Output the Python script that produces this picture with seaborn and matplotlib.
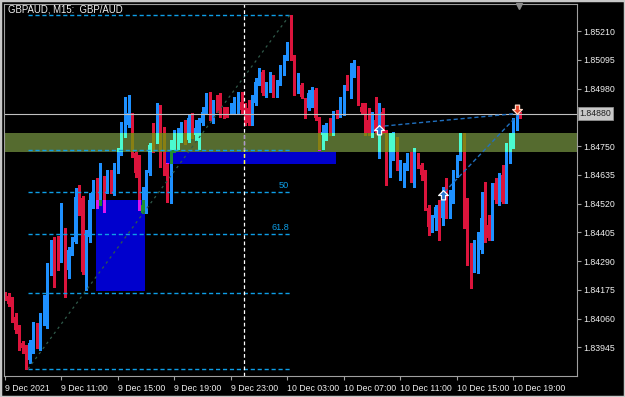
import numpy as np
import pandas as pd
import matplotlib
matplotlib.use("Agg")
import matplotlib.pyplot as plt
import matplotlib.transforms as mtransforms
from matplotlib.patches import Rectangle
from matplotlib.path import Path
import seaborn as sns

# ---------------- data (GBPAUD M15) ----------------
start_time = "2021-12-09 07:00"
opens = [1.84158, 1.84150, 1.84138, 1.84066, 1.84026, 1.83962, 1.83946, 1.83894, 1.83954, 1.83986,
         1.83954, 1.84074, 1.84142, 1.84266, 1.84334, 1.84374, 1.84322, 1.84406, 1.84254, 1.84326,
         1.84366, 1.84554, 1.84542, 1.84262, 1.84386, 1.84514, 1.84602, 1.84534, 1.84614, 1.84574,
         1.84626, 1.84566, 1.84674, 1.84722, 1.84794, 1.84834, 1.84874, 1.84722, 1.84694, 1.84482,
         1.84486, 1.84642, 1.84774, 1.84774, 1.84802, 1.84786, 1.84662, 1.84534, 1.84734, 1.84742,
         1.84774, 1.84822, 1.84774, 1.84862, 1.84794, 1.84742, 1.84842, 1.84886, 1.84934, 1.84854,
         1.84934, 1.84922, 1.84902, 1.84894, 1.84882, 1.84894, 1.84886, 1.84926, 1.84894, 1.84902,
         1.84846, 1.84922, 1.85002, 1.85046, 1.84954, 1.84974, 1.85026, 1.84954, 1.85002, 1.85042,
         1.85102, 1.85138, 1.85106, 1.84974, 1.84994, 1.84938, 1.84902, 1.84962, 1.84974, 1.84866,
         1.84794, 1.84782, 1.84826, 1.84802, 1.84882, 1.84874, 1.84882, 1.85022, 1.84954, 1.85034,
         1.85062, 1.84906, 1.84886, 1.84854, 1.84786, 1.84854, 1.84806, 1.84886, 1.84806, 1.84634,
         1.84702, 1.84774, 1.84622, 1.84642, 1.84662, 1.84714, 1.84614, 1.84714, 1.84674, 1.84646,
         1.84502, 1.84422, 1.84462, 1.84514, 1.84462, 1.84586, 1.84482, 1.84534, 1.84634, 1.84702,
         1.84802, 1.84434, 1.84302, 1.84274, 1.84314, 1.84334, 1.84446, 1.84434, 1.84382, 1.84602,
         1.84514, 1.84634, 1.84534, 1.84722, 1.84754, 1.84854, 1.84882]
highs = [1.84166, 1.84162, 1.84146, 1.84082, 1.84034, 1.83970, 1.83954, 1.83974, 1.84046, 1.84042,
         1.84082, 1.84154, 1.84282, 1.84374, 1.84386, 1.84390, 1.84522, 1.84422, 1.84346, 1.84386,
         1.84582, 1.84594, 1.84550, 1.84414, 1.84562, 1.84614, 1.84622, 1.84682, 1.84630, 1.84654,
         1.84654, 1.84682, 1.84742, 1.84846, 1.84946, 1.84954, 1.84882, 1.84726, 1.84714, 1.84586,
         1.84654, 1.84762, 1.84842, 1.84922, 1.84914, 1.84826, 1.84682, 1.84774, 1.84814, 1.84822,
         1.84846, 1.84854, 1.84874, 1.84882, 1.84854, 1.84862, 1.84906, 1.84962, 1.84966, 1.84934,
         1.84954, 1.84962, 1.84906, 1.84906, 1.84922, 1.84946, 1.84966, 1.84966, 1.84922, 1.84934,
         1.84954, 1.85022, 1.85062, 1.85054, 1.85006, 1.85046, 1.85034, 1.85014, 1.85074, 1.85114,
         1.85166, 1.85274, 1.85114, 1.85042, 1.85002, 1.84942, 1.84974, 1.84986, 1.84982, 1.84866,
         1.84834, 1.84842, 1.84862, 1.84890, 1.84894, 1.84946, 1.84994, 1.85034, 1.85082, 1.85094,
         1.85070, 1.84922, 1.84922, 1.84902, 1.84886, 1.84946, 1.84922, 1.84902, 1.84814, 1.84802,
         1.84806, 1.84786, 1.84694, 1.84682, 1.84722, 1.84726, 1.84742, 1.84722, 1.84682, 1.84654,
         1.84514, 1.84474, 1.84514, 1.84534, 1.84586, 1.84622, 1.84574, 1.84654, 1.84714, 1.84802,
         1.84802, 1.84542, 1.84362, 1.84374, 1.84406, 1.84566, 1.84606, 1.84474, 1.84602, 1.84622,
         1.84642, 1.84674, 1.84762, 1.84802, 1.84862, 1.84906, 1.84886]
lows = [1.84134, 1.84110, 1.84046, 1.84002, 1.83934, 1.83922, 1.83858, 1.83882, 1.83922, 1.83942,
        1.83934, 1.84034, 1.84022, 1.84234, 1.84186, 1.84254, 1.84286, 1.84146, 1.84222, 1.84314,
        1.84362, 1.84474, 1.84238, 1.84174, 1.84366, 1.84502, 1.84502, 1.84514, 1.84486, 1.84562,
        1.84562, 1.84554, 1.84642, 1.84714, 1.84786, 1.84826, 1.84706, 1.84626, 1.84494, 1.84482,
        1.84482, 1.84634, 1.84726, 1.84762, 1.84666, 1.84634, 1.84526, 1.84522, 1.84726, 1.84734,
        1.84766, 1.84758, 1.84766, 1.84782, 1.84774, 1.84734, 1.84834, 1.84882, 1.84854, 1.84842,
        1.84886, 1.84866, 1.84862, 1.84866, 1.84882, 1.84882, 1.84878, 1.84882, 1.84834, 1.84834,
        1.84834, 1.84914, 1.84994, 1.84954, 1.84946, 1.84966, 1.84946, 1.84946, 1.84994, 1.85034,
        1.85094, 1.85094, 1.84954, 1.84962, 1.84942, 1.84862, 1.84894, 1.84906, 1.84854, 1.84734,
        1.84734, 1.84774, 1.84794, 1.84794, 1.84862, 1.84866, 1.84874, 1.84974, 1.84942, 1.85026,
        1.84914, 1.84882, 1.84794, 1.84794, 1.84786, 1.84802, 1.84702, 1.84802, 1.84594, 1.84626,
        1.84694, 1.84654, 1.84614, 1.84586, 1.84654, 1.84606, 1.84586, 1.84662, 1.84614, 1.84494,
        1.84394, 1.84406, 1.84414, 1.84374, 1.84434, 1.84462, 1.84462, 1.84522, 1.84626, 1.84694,
        1.84422, 1.84274, 1.84182, 1.84246, 1.84242, 1.84322, 1.84366, 1.84374, 1.84374, 1.84522,
        1.84514, 1.84522, 1.84522, 1.84682, 1.84742, 1.84814, 1.84862]
closes = [1.84142, 1.84118, 1.84066, 1.84014, 1.83954, 1.83942, 1.83894, 1.83962, 1.83986, 1.83954,
          1.84074, 1.84142, 1.84266, 1.84342, 1.84314, 1.84266, 1.84414, 1.84246, 1.84334, 1.84366,
          1.84546, 1.84486, 1.84246, 1.84386, 1.84534, 1.84574, 1.84522, 1.84646, 1.84494, 1.84626,
          1.84566, 1.84674, 1.84722, 1.84802, 1.84854, 1.84882, 1.84714, 1.84642, 1.84522, 1.84514,
          1.84642, 1.84754, 1.84734, 1.84866, 1.84682, 1.84654, 1.84534, 1.84762, 1.84794, 1.84806,
          1.84826, 1.84766, 1.84862, 1.84826, 1.84822, 1.84834, 1.84886, 1.84926, 1.84894, 1.84922,
          1.84922, 1.84882, 1.84882, 1.84874, 1.84902, 1.84934, 1.84926, 1.84894, 1.84846, 1.84842,
          1.84922, 1.85006, 1.85046, 1.84962, 1.84986, 1.85026, 1.84954, 1.85002, 1.85066, 1.85106,
          1.85142, 1.85102, 1.84966, 1.85002, 1.84946, 1.84902, 1.84962, 1.84974, 1.84862, 1.84802,
          1.84806, 1.84834, 1.84802, 1.84882, 1.84866, 1.84922, 1.84982, 1.84982, 1.85054, 1.85062,
          1.84922, 1.84886, 1.84802, 1.84802, 1.84826, 1.84806, 1.84886, 1.84806, 1.84634, 1.84702,
          1.84774, 1.84662, 1.84646, 1.84666, 1.84714, 1.84614, 1.84714, 1.84674, 1.84634, 1.84502,
          1.84426, 1.84462, 1.84506, 1.84454, 1.84566, 1.84474, 1.84534, 1.84622, 1.84702, 1.84802,
          1.84434, 1.84294, 1.84274, 1.84322, 1.84406, 1.84462, 1.84374, 1.84382, 1.84602, 1.84534,
          1.84634, 1.84526, 1.84742, 1.84774, 1.84854, 1.84882, 1.84874]

price_ticks = [1.83945, 1.84060, 1.84175, 1.84290, 1.84405, 1.84520, 1.84635,
               1.84750, 1.84980, 1.85095, 1.85210]
bid_price = 1.84880
title_text = "GBPAUD, M15:  GBP/AUD"

# drawn objects
band_prices = (1.84726, 1.84802)              # olive zone (full width)
rect1 = dict(bars=(45.6, 93.8), prices=(1.84678, 1.84734))
rect2 = dict(bars=(25.8, 39.7), prices=(1.84170, 1.84534))
fib_bars = (6.5, 80.7)
fib_low, fib_high = 1.83858, 1.85274
fib_ratios = [0.0, 0.382, 0.5, 0.618, 0.786, 1.0]
fib_labels = {0.5: "50", 0.618: "61.8"}
separator_bar = 67.8
buy_bars = [106, 124]
buy_prices = [1.84814, 1.84554]
sell_bar, sell_price = 145, 1.84898
trade_lines = [((107.5, 1.84830), (145, 1.84880)),
               ((124.5, 1.84566), (145, 1.84870))]

# ---------------- styling ----------------
sns.set_theme(style="dark", rc={"axes.facecolor": "black", "figure.facecolor": "black"})
plt.rcParams["font.family"] = ["Liberation Sans", "DejaVu Sans"]

W, H = 625, 397
fig = plt.figure(figsize=(W / 100, H / 100), dpi=100)
ax = fig.add_axes([4 / W, 21 / H, 573 / W, 372 / H])
ax.set_facecolor("black")
ax.grid(False)

o = np.array(opens); h = np.array(highs); l = np.array(lows); c = np.array(closes)
n = len(o)
x = np.arange(n)
times = pd.date_range(start_time, periods=n, freq="15min")

xlim = (-0.283, 162.04)
ylim = (1.83830, 1.85318)
ax.set_xlim(*xlim)
ax.set_ylim(*ylim)

UP, DN = "#1E90FF", "#DC143C"


def xor(c1, c2):
    a = [int(c1[i:i + 2], 16) ^ int(c2[i:i + 2], 16) for i in (1, 3, 5)]
    return "#%02x%02x%02x" % tuple(a)


def draw_candles(up_c, dn_c, z, clip=None):
    up = c >= o
    cols = np.where(up, up_c, dn_c)
    lc = ax.vlines(x, l, h, colors=cols, lw=0.8, zorder=z, antialiased=False)
    bottoms = np.minimum(o, c)
    heights = np.maximum(np.abs(c - o), 0.00004)
    bars = ax.bar(x, heights, bottom=bottoms, width=0.7, color=cols, lw=0, zorder=z,
                  antialiased=False)
    if clip is not None:
        lc.set_clip_path(clip)
        for b in bars:
            b.set_clip_path(clip)


draw_candles(UP, DN, 3)

OLIVE, MBLUE = "#556B2F", "#0000CD"
band = Rectangle((xlim[0], band_prices[0]), xlim[1] - xlim[0], band_prices[1] - band_prices[0],
                 fc=OLIVE, ec="none", zorder=4)
r1 = Rectangle((rect1["bars"][0], rect1["prices"][0]), rect1["bars"][1] - rect1["bars"][0],
               rect1["prices"][1] - rect1["prices"][0], fc=MBLUE, ec="none", zorder=4)
r2 = Rectangle((rect2["bars"][0], rect2["prices"][0]), rect2["bars"][1] - rect2["bars"][0],
               rect2["prices"][1] - rect2["prices"][0], fc=MBLUE, ec="none", zorder=4)
for p in (r1, r2, band):
    ax.add_patch(p)
for p, col in ((band, OLIVE), (r1, MBLUE), (r2, MBLUE)):
    draw_candles(xor(UP, col), xor(DN, col), 5, clip=p)

# Fibonacci retracement
FIBC = "#0e9ee6"
for r in fib_ratios:
    lvl = fib_high - r * (fib_high - fib_low)
    ax.plot(fib_bars, [lvl, lvl], color=FIBC, lw=1.0, ls=(0, (3, 2)), zorder=6,
            solid_capstyle="butt", dash_capstyle="butt")
    if r in fib_labels:
        ax.text(fib_bars[1] - 0.3, lvl + 0.00008, fib_labels[r], color=FIBC, fontsize=6.6,
                ha="right", va="bottom", zorder=6)
ax.plot(fib_bars, [fib_low, fib_high], color="#2f5a4a", lw=0.9, ls=(0, (2, 3)), zorder=6)

# period separator (white dashed) with xor tint inside objects
sep_kw = dict(lw=0.9, ls=(0, (3, 2)), zorder=7)
ax.axvline(separator_bar, color="white", **sep_kw)
for p, col in ((band, OLIVE), (r1, MBLUE)):
    ln = ax.axvline(separator_bar, color=xor("#ffffff", col), **sep_kw)
    ln.set_clip_path(p)

# bid line
ax.axhline(bid_price, color="#c0c0c0", lw=0.8, zorder=6)

# trade lines
for (x0, y0), (x1, y1) in trade_lines:
    ax.plot([x0, x1], [y0, y1], color="#2070c0", lw=1.0, ls=(0, (3, 2)), zorder=6)

# arrows
up_arrow = Path([(0, 1), (1, 0), (0.42, 0), (0.42, -0.9), (-0.42, -0.9), (-0.42, 0), (-1, 0), (0, 1)],
                closed=True)
dn_arrow = Path([(0, -1), (1, 0), (0.42, 0), (0.42, 0.9), (-0.42, 0.9), (-0.42, 0), (-1, 0), (0, -1)],
                closed=True)
ax.plot(buy_bars, buy_prices, ls="none", marker=up_arrow, ms=7, mfc="#2a78d0", mec="white",
        mew=0.9, zorder=8)
ax.plot([sell_bar], [sell_price], ls="none", marker=dn_arrow, ms=7, mfc="#e8452a", mec="#ffd8c8",
        mew=0.9, zorder=8)

# axes / ticks
for s in ax.spines.values():
    s.set_color("#a0a0a0")
    s.set_linewidth(0.8)
    s.set_zorder(9)

ax.yaxis.tick_right()
ax.set_yticks(price_ticks)
ax.set_yticklabels(["%.5f" % v for v in price_ticks])
tick_idx = list(range(0, n, 16))
labels = []
for k in tick_idx:
    t = times[k]
    if k == 0:
        labels.append(f"{t.day} {t.strftime('%b %Y')}")
    else:
        labels.append(f"{t.day} {t.strftime('%b %H:%M')}")
ax.set_xticks(tick_idx)
ax.set_xticklabels(labels, ha="left")
ax.tick_params(axis="both", which="both", direction="out", length=3, width=0.8,
               color="#a0a0a0", labelcolor="#f0f0f0", labelsize=6.3)
ax.tick_params(axis="x", pad=2.5, bottom=True)
ax.tick_params(axis="y", pad=1.5, right=True, left=False)
ax.set_xlabel("")
ax.set_ylabel("")

# bid price label box
trans = mtransforms.blended_transform_factory(ax.transAxes, ax.transData)
ax.text(1.0045, bid_price, "%.5f" % bid_price, transform=trans, ha="left", va="center",
        fontsize=6.3, color="#202020", zorder=10, clip_on=False,
        bbox=dict(boxstyle="square,pad=0.18", fc="#c8c8c8", ec="#909090", lw=0.6))

# title, shift marker, outer frame
fig.text(8 / W, 1 - 10 / H, title_text, color="#f0f0f0", fontsize=6.9, ha="left", va="center")
ax.plot([519 / W], [1 - 6 / H], transform=fig.transFigure, marker="v", ms=5, color="#8a8a8a",
        ls="none", clip_on=False, zorder=10)
fig.patches.append(Rectangle((0, 0), 1, 1, transform=fig.transFigure, fill=False,
                             ec="#c8c8c8", lw=2.5))

fig.savefig("out.png", dpi=100, facecolor="black")
